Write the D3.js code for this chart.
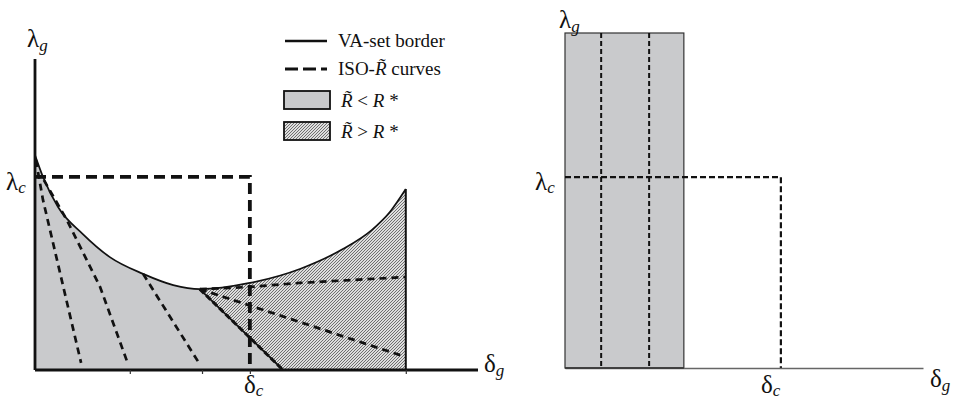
<!DOCTYPE html>
<html>
<head>
<meta charset="utf-8">
<script src="https://cdn.jsdelivr.net/npm/d3@7"></script>
<style>
  html, body { margin: 0; padding: 0; background: #fff; }
  svg { display: block; }
  text { font-family: "Liberation Serif", "Times New Roman", serif; fill: #111; }
</style>
</head>
<body>
<svg id="chart" width="959" height="401"></svg>
<script>
// ---- Left panel: VA-set in the (delta_g, lambda_g) plane ----
// VA-set border (solid curve), in axis units (0..100)
const borderX = [0, 1.8, 5.2, 10.8, 16.9, 24.4, 31.2, 37.2, 48.5, 59.8, 69.5, 76.0, 80.1, 83.7];
const borderY = [69.1, 62.1, 52.4, 43.7, 36.3, 30.9, 27.3, 26.0, 28.0, 32.5, 38.9, 45.0, 50.8, 58.2];

// ISO-R~ curves inside the R~ < R* region
const iso1 = [[0.2, 67.5], [1.8, 54.7], [10.4, 2.3]];
const iso2 = [[2.0, 61.1], [7.2, 48.2], [14.7, 26.7], [21.0, 1.9]];
const iso3 = [[24.4, 30.9], [37.0, 2.3]];
// boundary between the two regions (also an ISO curve)
const isoBoundary = [[37.2, 26.0], [56.0, 0]];
// ISO-R~ curves inside the R~ > R* region
const isoHatchA = [[37.2, 26.0], [48.5, 26.7], [59.8, 28.0], [83.7, 29.9]];
const isoHatchB = [[37.2, 26.0], [83.7, 4.2]];

const lambdaC = 62.1;
const deltaC = 48.5;
const deltaMax = 83.7;
const leftTicks = [21.4, 37.7, 48.5, 83.7];

// ---- Right panel ----
const rectWidth = 33.2;
const innerDashX = [10.1, 23.5];
const lambdaC2 = 57.0;
const deltaC2 = 60.3;

const svg = d3.select("#chart");

// hatch pattern
const defs = svg.append("defs");
const pat = defs.append("pattern")
  .attr("id", "hatch").attr("patternUnits", "userSpaceOnUse")
  .attr("width", 3).attr("height", 3);
pat.append("rect").attr("width", 3).attr("height", 3).attr("fill", "#dedede");
pat.append("path").attr("d", "M-1,1 L1,-1 M0,3 L3,0 M2,4 L4,2")
  .attr("stroke", "#5c5c5c").attr("stroke-width", 0.85);

const grayFill = "#c9cacc";

// scales, left panel
const x1 = d3.scaleLinear().domain([0, 100]).range([35, 478]);
const y1 = d3.scaleLinear().domain([0, 100]).range([370, 59]);
const line1 = d3.line().x(d => x1(d[0])).y(d => y1(d[1]));
const curve1 = d3.line().x(d => x1(d[0])).y(d => y1(d[1])).curve(d3.curveMonotoneX);

const border = borderX.map((v, i) => [v, borderY[i]]);
const minIdx = borderY.indexOf(d3.min(borderY));
const leftBranch = border.slice(0, minIdx + 1);
const rightBranch = border.slice(minIdx);

const gL = svg.append("g");

// gray region: under left branch, bounded by the boundary ISO line
const grayPath = curve1(leftBranch) +
  "L" + x1(isoBoundary[1][0]) + "," + y1(0) +
  "L" + x1(0) + "," + y1(0) + "Z";
gL.append("path").attr("d", grayPath).attr("fill", grayFill);

// hatched region: between boundary line and right branch
const hatchPath = curve1(rightBranch) +
  "L" + x1(deltaMax) + "," + y1(0) +
  "L" + x1(isoBoundary[1][0]) + "," + y1(0) + "Z";
gL.append("path").attr("d", hatchPath).attr("fill", "url(#hatch)");

// ISO dashed curves
[iso1, iso2, iso3, isoHatchA, isoHatchB].forEach(pts => {
  gL.append("path").attr("d", line1(pts))
    .attr("fill", "none").attr("stroke", "#111")
    .attr("stroke-width", 2.7).attr("stroke-dasharray", "7,5");
});
// boundary: solid with dashed overlay
gL.append("path").attr("d", line1(isoBoundary))
  .attr("fill", "none").attr("stroke", "#111").attr("stroke-width", 1.8);
gL.append("path").attr("d", line1(isoBoundary))
  .attr("fill", "none").attr("stroke", "#111").attr("stroke-width", 3)
  .attr("stroke-dasharray", "6,3");

// VA-set border
gL.append("path").attr("d", curve1(border))
  .attr("fill", "none").attr("stroke", "#111").attr("stroke-width", 1.7);
// right edge of the set
gL.append("line")
  .attr("x1", x1(deltaMax)).attr("x2", x1(deltaMax))
  .attr("y1", y1(borderY[borderY.length - 1])).attr("y2", y1(0))
  .attr("stroke", "#111").attr("stroke-width", 2);

// axes
const xAxisL = d3.axisBottom(x1).tickValues(leftTicks).tickSize(4).tickFormat("");
const gx = gL.append("g").attr("transform", `translate(0,${y1(0)})`).call(xAxisL);
gx.select(".domain").attr("stroke", "#111").attr("stroke-width", 2.8).attr("d", `M${x1(0)},0H${x1(100)}`);
gx.selectAll(".tick line").attr("stroke", "#333").attr("stroke-width", 1.2);
gL.append("line")
  .attr("x1", x1(0)).attr("x2", x1(0)).attr("y1", y1(100)).attr("y2", y1(0))
  .attr("stroke", "#111").attr("stroke-width", 2.8);

// lambda_c / delta_c thick dashed
gL.append("path")
  .attr("d", line1([[0, lambdaC], [deltaC, lambdaC], [deltaC, 0]]))
  .attr("fill", "none").attr("stroke", "#111").attr("stroke-width", 3.8)
  .attr("stroke-dasharray", "11,6");

// labels helper
function sym(g, x, y, main, sub, size, subDy) {
  const t = g.append("text").attr("x", x).attr("y", y).attr("font-size", size);
  t.append("tspan").text(main);
  t.append("tspan").attr("font-size", size * 0.68).attr("font-style", "italic")
    .attr("dy", subDy).text(sub);
  return t;
}
sym(gL, 27, 47, "λ", "g", 25, 4);
sym(gL, 6, 190, "λ", "c", 25, 3);
sym(gL, 484, 372, "δ", "g", 25, 4);
sym(gL, 244, 393, "δ", "c", 25, 3);

// legend
const lg = svg.append("g");
const rowY = [41, 69, 100, 131];
lg.append("line").attr("x1", 285).attr("x2", 327).attr("y1", rowY[0]).attr("y2", rowY[0])
  .attr("stroke", "#111").attr("stroke-width", 2.6);
lg.append("line").attr("x1", 285).attr("x2", 327).attr("y1", rowY[1]).attr("y2", rowY[1])
  .attr("stroke", "#111").attr("stroke-width", 3).attr("stroke-dasharray", "13,5");
lg.append("rect").attr("x", 284).attr("y", 91).attr("width", 46).attr("height", 18)
  .attr("fill", grayFill).attr("stroke", "#111").attr("stroke-width", 1.8);
lg.append("rect").attr("x", 284).attr("y", 122).attr("width", 46).attr("height", 18)
  .attr("fill", "url(#hatch)").attr("stroke", "#111").attr("stroke-width", 1.8);

const fs = 19;
lg.append("text").attr("x", 338).attr("y", rowY[0] + 6).attr("font-size", fs).text("VA-set border");
const t2 = lg.append("text").attr("x", 338).attr("y", rowY[1] + 6).attr("font-size", fs);
t2.append("tspan").text("ISO-");
t2.append("tspan").attr("font-style", "italic").text("R\u0303");
t2.append("tspan").text(" curves");
const t3 = lg.append("text").attr("x", 341).attr("y", rowY[2] + 7).attr("font-size", fs);
t3.append("tspan").attr("font-style", "italic").text("R\u0303");
t3.append("tspan").text(" < ");
t3.append("tspan").attr("font-style", "italic").text("R");
t3.append("tspan").text(" *");
const t4 = lg.append("text").attr("x", 341).attr("y", rowY[3] + 7).attr("font-size", fs);
t4.append("tspan").attr("font-style", "italic").text("R\u0303");
t4.append("tspan").text(" > ");
t4.append("tspan").attr("font-style", "italic").text("R");
t4.append("tspan").text(" *");

// ---- Right panel ----
const x2 = d3.scaleLinear().domain([0, 100]).range([565, 923]);
const y2 = d3.scaleLinear().domain([0, 100]).range([368, 33]);
const line2 = d3.line().x(d => x2(d[0])).y(d => y2(d[1]));
const gR = svg.append("g");

gR.append("rect")
  .attr("x", x2(0)).attr("y", y2(100))
  .attr("width", x2(rectWidth) - x2(0)).attr("height", y2(0) - y2(100))
  .attr("fill", grayFill).attr("stroke", "#333").attr("stroke-width", 1.2);

innerDashX.forEach(v => {
  gR.append("path").attr("d", line2([[v, 100], [v, 0]]))
    .attr("fill", "none").attr("stroke", "#111").attr("stroke-width", 2)
    .attr("stroke-dasharray", "5,3");
});
gR.append("path")
  .attr("d", line2([[0, lambdaC2], [deltaC2, lambdaC2], [deltaC2, 0]]))
  .attr("fill", "none").attr("stroke", "#111").attr("stroke-width", 2.2)
  .attr("stroke-dasharray", "6,3");

const xAxisR = d3.axisBottom(x2).tickValues([]).tickSizeOuter(0);
const gx2 = gR.append("g").attr("transform", `translate(0,${y2(0)})`).call(xAxisR);
gx2.select(".domain").attr("stroke", "#666").attr("stroke-width", 1.6);
gR.append("line").attr("x1", x2(0)).attr("x2", x2(rectWidth)).attr("y1", y2(0)).attr("y2", y2(0))
  .attr("stroke", "#333").attr("stroke-width", 1.6);

sym(gR, 559, 28, "λ", "g", 25, 4);
sym(gR, 535, 190, "λ", "c", 25, 3);
sym(gR, 761, 393, "δ", "c", 25, 3);
sym(gR, 930, 387, "δ", "g", 25, 4);
</script>
</body>
</html>
